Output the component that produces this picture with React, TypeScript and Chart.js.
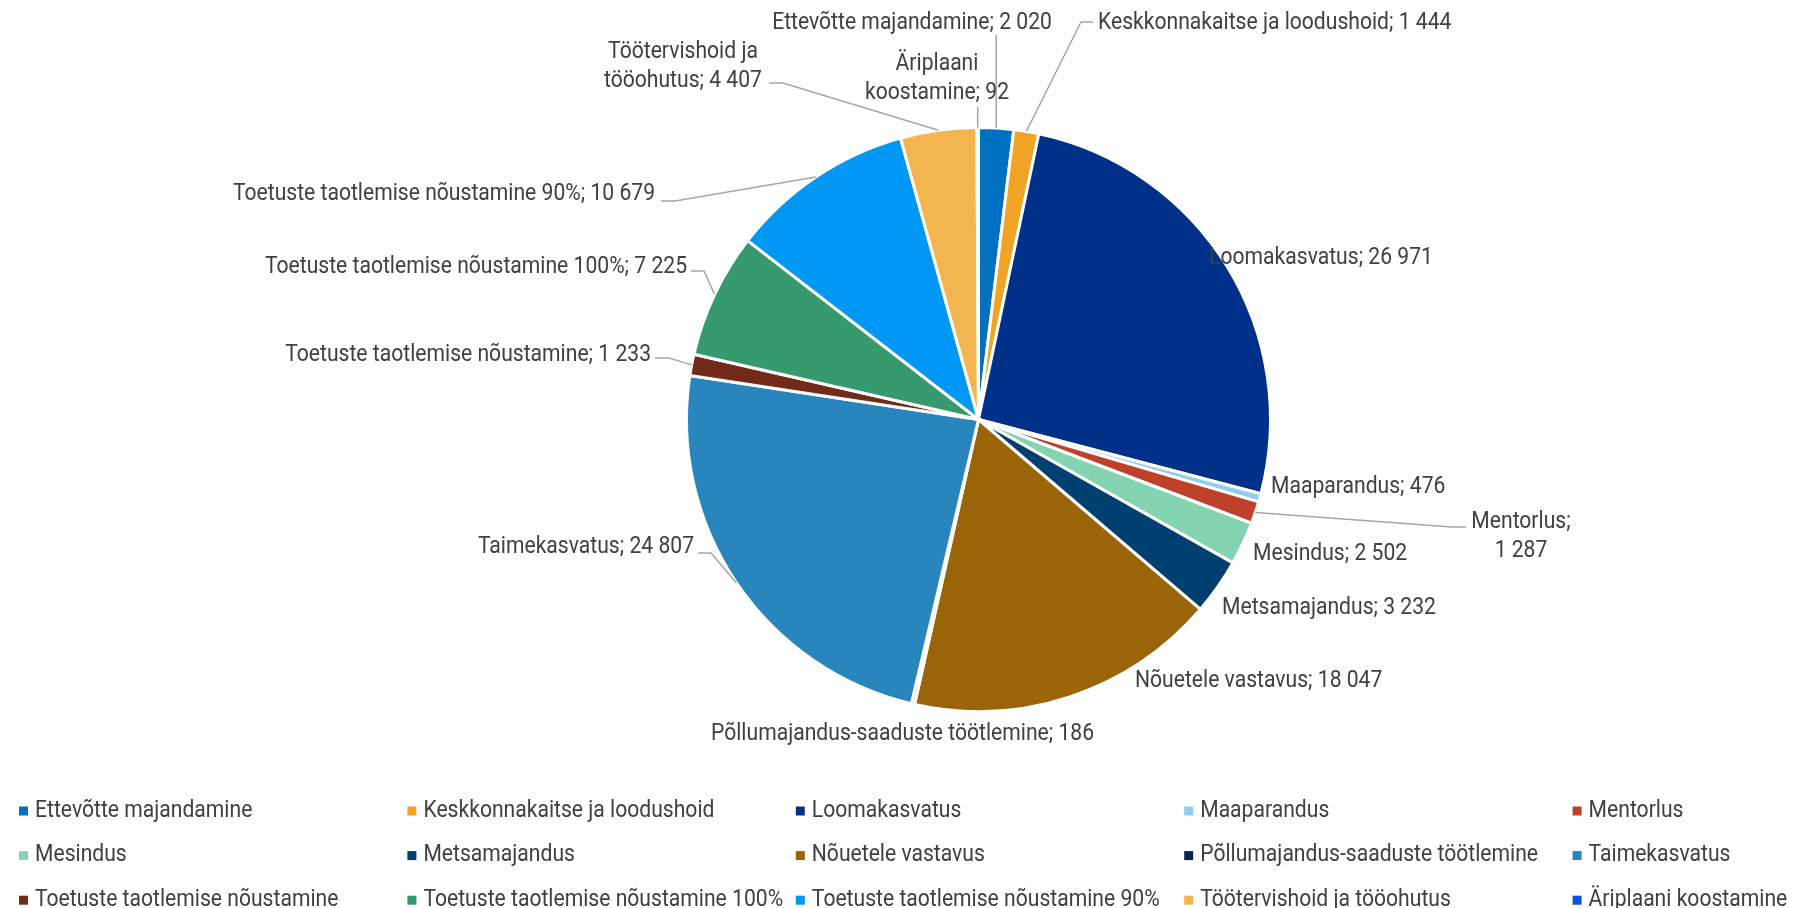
import { useEffect, useRef } from 'react';
import { Chart, registerables } from 'chart.js';

Chart.register(...registerables);

const categories = [
  'Ettevõtte majandamine',
  'Keskkonnakaitse ja loodushoid',
  'Loomakasvatus',
  'Maaparandus',
  'Mentorlus',
  'Mesindus',
  'Metsamajandus',
  'Nõuetele vastavus',
  'Põllumajandus-saaduste töötlemine',
  'Taimekasvatus',
  'Toetuste taotlemise nõustamine',
  'Toetuste taotlemise nõustamine 100%',
  'Toetuste taotlemise nõustamine 90%',
  'Töötervishoid ja tööohutus',
  'Äriplaani koostamine',
];

const values = [2020, 1444, 26971, 476, 1287, 2502, 3232, 18047, 186, 24807, 1233, 7225, 10679, 4407, 92];

const colors = [
  '#0070C0',
  '#F0A324',
  '#003087',
  '#93CDEE',
  '#BE4129',
  '#84D4B1',
  '#004070',
  '#9A6409',
  '#0B2550',
  '#2886BC',
  '#722A1B',
  '#369A6E',
  '#0098F4',
  '#F3B54F',
  '#0A50D8',
];

const W = 1793;
const H = 908;
const FONT = '23px Roboto';
const SCALE_X = 0.918;
const TEXT_COLOR = '#404040';
const LEADER_COLOR = '#A6A6A6';
const LINE_H = 29;

type Pt = [number | null, number];
type Layout = { x: number; y: number; align: CanvasTextAlign; breaks?: number[]; leader?: Pt[] };

// label placement (canvas px), leader waypoints after the slice edge
const labelLayout: Layout[] = [
  { x: 912, y: 23, align: 'center', leader: [[null, 35]] },
  { x: 1098, y: 23, align: 'left', leader: [[1081, 22], [1093, 22]] },
  { x: 1321, y: 258, align: 'center' },
  { x: 1271, y: 487, align: 'left' },
  { x: 1521, y: 537, align: 'center', breaks: [1], leader: [[1452, 527], [1466, 527]] },
  { x: 1253, y: 554, align: 'left' },
  { x: 1222, y: 608, align: 'left' },
  { x: 1135, y: 681, align: 'left' },
  { x: 711, y: 734, align: 'left' },
  { x: 694, y: 547, align: 'right', leader: [[711, 553], [698, 553]] },
  { x: 651, y: 355, align: 'right', leader: [[669, 358], [655, 358]] },
  { x: 687, y: 267, align: 'right', leader: [[704, 271], [691, 271]] },
  { x: 655, y: 194, align: 'right', leader: [[675, 201], [661, 201]] },
  { x: 683, y: 67, align: 'center', breaks: [2], leader: [[783, 83], [769, 83]] },
  { x: 937, y: 79, align: 'center', breaks: [1], leader: [[null, 107]] },
];

const legendCols = 5;
const legendX0 = 19;
const legendDX = 388.4;
const legendY0 = 811;
const legendDY = 44.6;

function fmt(v: number): string {
  return String(v).replace(/\B(?=(\d{3})+(?!\d))/g, ' ');
}

function splitLines(text: string, breaks?: number[]): string[] {
  if (!breaks || !breaks.length) return [text];
  const words = text.split(' ');
  const out: string[] = [];
  let start = 0;
  for (const b of breaks) {
    out.push(words.slice(start, b).join(' '));
    start = b;
  }
  out.push(words.slice(start).join(' '));
  return out;
}

function drawText(ctx: CanvasRenderingContext2D, s: string, x: number, y: number, align: CanvasTextAlign) {
  ctx.save();
  ctx.translate(x, y);
  ctx.scale(SCALE_X, 1);
  ctx.font = FONT;
  ctx.fillStyle = TEXT_COLOR;
  ctx.textAlign = align;
  ctx.textBaseline = 'middle';
  ctx.fillText(s, 0, 0);
  ctx.restore();
}

const labelPlugin = {
  id: 'sliceLabels',
  afterDraw(chart: any) {
    const ctx: CanvasRenderingContext2D = chart.ctx;
    const meta = chart.getDatasetMeta(0);
    ctx.save();
    meta.data.forEach((arc: any, i: number) => {
      const p = arc.getProps(['x', 'y', 'startAngle', 'endAngle', 'outerRadius'], true);
      const mid = (p.startAngle + p.endAngle) / 2;
      const ex = p.x + Math.cos(mid) * p.outerRadius;
      const ey = p.y + Math.sin(mid) * p.outerRadius;
      const L = labelLayout[i];
      if (L.leader) {
        ctx.beginPath();
        ctx.strokeStyle = LEADER_COLOR;
        ctx.lineWidth = 1.5;
        ctx.moveTo(ex, ey);
        L.leader.forEach(([lx, ly]) => ctx.lineTo(lx === null ? ex : lx, ly));
        ctx.stroke();
      }
      const text = categories[i] + '; ' + fmt(values[i]);
      const lines = splitLines(text, L.breaks);
      const y0 = L.y - ((lines.length - 1) * LINE_H) / 2;
      lines.forEach((ln, k) => drawText(ctx, ln, L.x, y0 + k * LINE_H, L.align));
    });

    // legend
    categories.forEach((c, i) => {
      const col = i % legendCols;
      const row = Math.floor(i / legendCols);
      const x = legendX0 + col * legendDX;
      const y = legendY0 + row * legendDY;
      ctx.fillStyle = colors[i];
      ctx.fillRect(x, y - 4.5, 9, 9);
      drawText(ctx, c, x + 16, y, 'left');
    });
    ctx.restore();
  },
};

export default function App() {
  const ref = useRef<HTMLCanvasElement | null>(null);
  useEffect(() => {
    document.body.style.margin = '0';
    const canvas = ref.current!;
    const chart = new Chart(canvas, {
      type: 'pie',
      data: {
        labels: categories,
        datasets: [
          {
            data: values,
            backgroundColor: colors,
            borderColor: '#ffffff',
            borderWidth: 3,
          },
        ],
      },
      options: {
        responsive: false,
        animation: false,
        layout: { padding: { left: 685, right: W - 1272, top: 126, bottom: H - 713 } },
        plugins: {
          legend: { display: false },
          tooltip: { enabled: false },
        },
      },
      plugins: [labelPlugin],
    });
    return () => chart.destroy();
  }, []);
  return (
    <div style={{ position: 'fixed', left: 0, top: 0, width: W, height: H, background: '#fff' }}>
      <canvas ref={ref} width={W} height={H} style={{ width: W, height: H, display: 'block' }} />
    </div>
  );
}
